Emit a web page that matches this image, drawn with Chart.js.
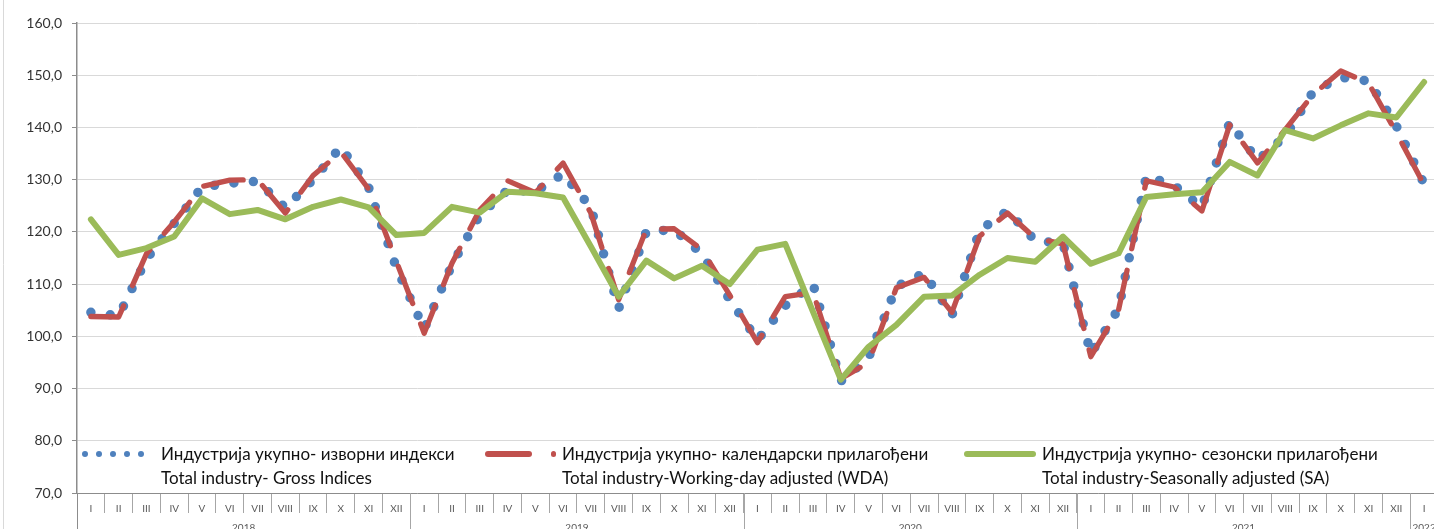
<!DOCTYPE html>
<html lang="sr">
  <head>
    <meta charset="UTF-8" />
    <title>Индустрија укупно</title>
    <script src="https://cdn.jsdelivr.net/npm/chart.js"></script>
    <style>
      html,
      body {
        margin: 0;
        padding: 0;
        background: #fff;
        overflow: hidden;
      }
      #wrap {
        position: relative;
        width: 1450px;
        height: 529px;
      }
      #chart {
        position: absolute;
        left: 0;
        top: 0;
      }
      /* legend sits inside the plot, between 70 and 80 */
      .legend-text {
        position: absolute;
        top: 442px;
        font-family: Lato, sans-serif;
        font-size: 17px;
        line-height: 24px;
        color: #111;
        white-space: nowrap;
      }
      .dot {
        position: absolute;
        width: 6px;
        height: 6px;
        top: 451px;
        border-radius: 50%;
        background: #4f81bd;
      }
      .bar {
        position: absolute;
        border-radius: 3px;
      }
    </style>
  </head>
  <body>
    <div id="wrap">
      <canvas id="chart" width="1450" height="529"></canvas>

      <!-- legend: gross -->
      <span class="dot" style="left: 82px"></span>
      <span class="dot" style="left: 96px"></span>
      <span class="dot" style="left: 110px"></span>
      <span class="dot" style="left: 124px"></span>
      <span class="dot" style="left: 137.5px"></span>
      <div class="legend-text" style="left: 161px">
        Индустрија укупно- изворни индекси<br />Total industry- Gross Indices
      </div>

      <!-- legend: working-day adjusted -->
      <span class="bar" style="left: 485px; top: 451.2px; width: 46.7px; height: 5.7px; background: #c0504d"></span>
      <span class="bar" style="left: 550.5px; top: 451.2px; width: 5.7px; height: 5.7px; background: #c0504d"></span>
      <div class="legend-text" style="left: 562px">
        Индустрија укупно- календарски прилагођени<br />Total industry-Working-day adjusted (WDA)
      </div>

      <!-- legend: seasonally adjusted -->
      <span class="bar" style="left: 964.3px; top: 450.8px; width: 71.4px; height: 6.3px; background: #9bbb59"></span>
      <div class="legend-text" style="left: 1042px">
        Индустрија укупно- сезонски прилагођени<br />Total industry-Seasonally adjusted (SA)
      </div>
    </div>

    <script>
      // категорије
      const years = ["2018", "2019", "2020", "2021", "2022"];
      const monthsPerYear = [12, 12, 12, 12, 1];
      const months = ["I", "II", "III", "IV", "V", "VI", "VII", "VIII", "IX", "X", "XI", "XII"];

      // изворни индекси (Gross)
      const gross = [
        104.6, 103.9, 114.8, 121.6, 128.6, 129.3, 129.7, 124.6, 130.0, 136.3, 128.5, 113.1,
        101.4, 113.7, 123.2, 128.0, 127.7, 131.1, 124.7, 105.3, 120.1, 120.4, 115.8, 107.0,
        99.3, 105.9, 110.0, 91.4, 95.9, 109.5, 112.1, 104.0, 120.3, 124.0, 118.3, 117.8,
        96.6, 105.3, 130.7, 128.9, 124.7, 141.0, 133.7, 138.3, 146.8, 149.6, 148.9, 140.3,
        129.2,
      ];

      // календарски прилагођени (WDA)
      const wda = [
        103.8, 103.7, 115.8, 121.9, 128.7, 129.9, 130.0, 123.6, 130.8, 135.3, 128.2, 114.3,
        100.6, 114.0, 124.2, 129.8, 127.5, 133.2, 123.6, 107.0, 120.5, 120.6, 116.6, 107.9,
        98.8, 107.6, 108.4, 91.9, 95.0, 109.3, 111.3, 104.6, 119.2, 123.6, 118.8, 117.7,
        96.1, 105.1, 129.8, 128.6, 124.0, 140.5, 133.2, 139.6, 146.3, 150.8, 148.5, 139.0,
        129.0,
      ];

      // сезонски прилагођени (SA)
      const sa = [
        122.4, 115.6, 116.9, 119.1, 126.4, 123.4, 124.2, 122.4, 124.8, 126.2, 124.7, 119.4,
        119.8, 124.8, 123.7, 127.7, 127.4, 126.6, 117.2, 107.6, 114.5, 111.1, 113.5, 110.0,
        116.6, 117.7, 104.7, 91.7, 98.0, 102.2, 107.6, 107.8, 111.8, 115.0, 114.3, 119.1,
        113.9, 115.9, 126.7, 127.2, 127.6, 133.4, 130.8, 139.5, 137.9, 140.4, 142.7, 141.9,
        148.7,
      ];

      const yMin = 70;
      const yMax = 160;
      const yStep = 10;

      const labels = [];
      years.forEach((y, k) => {
        for (let m = 0; m < monthsPerYear[k]; m++) labels.push(months[m]);
      });

      // year row under the months + frame line on the left
      const yearRow = {
        id: "yearRow",
        beforeDraw(chart) {
          const c = chart.ctx;
          c.save();
          c.strokeStyle = "#d9d9d9";
          c.lineWidth = 1;
          c.beginPath();
          c.moveTo(3.5, 0);
          c.lineTo(3.5, chart.height);
          c.stroke();
          c.restore();
        },
        afterDraw(chart) {
          const c = chart.ctx;
          const xs = chart.scales.x;
          const bottom = chart.chartArea.bottom;
          c.save();
          c.lineWidth = 1;
          c.fillStyle = "#595959";
          c.font = "10px Lato";
          c.textAlign = "center";
          c.textBaseline = "middle";
          let start = 0;
          years.forEach((y, k) => {
            const n = monthsPerYear[k];
            const x0 = Math.round(xs.getPixelForValue(start - 0.5)) + 0.5;
            c.strokeStyle = k === 0 ? "#8c8c8c" : "#a6a6a6";
            c.beginPath();
            c.moveTo(x0, bottom);
            c.lineTo(x0, chart.height);
            c.stroke();
            c.fillText(y, xs.getPixelForValue(start + (n - 1) / 2), 528);
            start += n;
          });
          c.restore();
        },
      };

      const ctx = document.getElementById("chart").getContext("2d");
      new Chart(ctx, {
        type: "line",
        data: {
          labels: labels,
          datasets: [
            {
              label: "Индустрија укупно- изворни индекси",
              data: gross,
              borderColor: "#4f81bd",
              borderWidth: 9.5,
              borderDash: [0, 19.5],
              borderCapStyle: "round",
              borderJoinStyle: "round",
              pointRadius: 0,
              tension: 0,
              order: 3,
            },
            {
              label: "Индустрија укупно- календарски прилагођени",
              data: wda,
              borderColor: "#c0504d",
              borderWidth: 5.3,
              borderDash: [40, 22],
              borderCapStyle: "round",
              borderJoinStyle: "round",
              pointRadius: 0,
              tension: 0,
              order: 2,
            },
            {
              label: "Индустрија укупно- сезонски прилагођени",
              data: sa,
              borderColor: "#9bbb59",
              borderWidth: 6,
              borderCapStyle: "round",
              borderJoinStyle: "round",
              pointRadius: 0,
              tension: 0,
              order: 1,
            },
          ],
        },
        options: {
          responsive: false,
          animation: false,
          events: [],
          layout: { padding: { top: 23, right: 12, left: 0, bottom: 0 } },
          plugins: {
            legend: { display: false },
            tooltip: { enabled: false },
          },
          scales: {
            x: {
              offset: true,
              grid: {
                offset: true,
                drawOnChartArea: false,
                tickLength: 20,
                color: "#a6a6a6",
                lineWidth: 1,
              },
              border: { color: "#8c8c8c", width: 1 },
              ticks: {
                autoSkip: false,
                maxRotation: 0,
                padding: -10,
                color: "#595959",
                font: { family: "Lato", size: 10 },
              },
              afterFit(s) {
                s.height = 36;
              },
            },
            y: {
              min: yMin,
              max: yMax,
              ticks: {
                stepSize: yStep,
                padding: 10,
                color: "#333",
                font: { family: "Lato", size: 14 },
                callback: (v) => v.toFixed(1).replace(".", ","),
              },
              grid: { color: "#d9d9d9", tickLength: 5, tickColor: "#8c8c8c" },
              border: { color: "#8c8c8c", width: 1.5 },
              afterFit(s) {
                s.width = 77;
              },
            },
          },
        },
        plugins: [yearRow],
      });
    </script>
  </body>
</html>
